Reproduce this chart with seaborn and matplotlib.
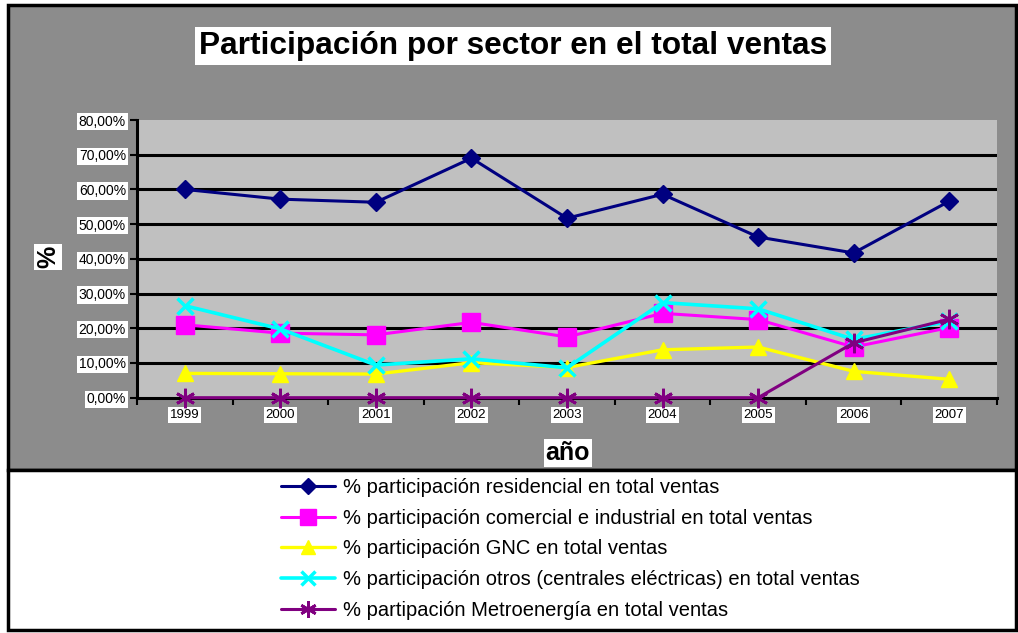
import matplotlib
matplotlib.use("Agg")
import matplotlib.pyplot as plt
import seaborn as sns
import pandas as pd
from matplotlib.patches import Rectangle
from matplotlib.ticker import FixedLocator

years = [1999, 2000, 2001, 2002, 2003, 2004, 2005, 2006, 2007]
residencial = [60.0, 57.2, 56.3, 69.0, 51.7, 58.6, 46.3, 41.7, 56.6]
comercial = [21.0, 18.6, 18.1, 21.7, 17.5, 24.3, 22.5, 14.6, 20.2]
gnc = [7.0, 6.9, 6.8, 10.1, 8.7, 13.8, 14.6, 7.6, 5.3]
otros = [26.5, 19.8, 9.4, 11.2, 8.6, 27.4, 25.6, 16.8, 22.0]
metro = [0.0, 0.0, 0.0, 0.0, 0.0, 0.0, 0.0, 15.8, 22.6]

labels = [
    "% participación residencial en total ventas",
    "% participación comercial e industrial en total ventas",
    "% participación GNC en total ventas",
    "% participación otros (centrales eléctricas) en total ventas",
    "% partipación Metroenergía en total ventas",
]
ytick_labels = ["0,00%", "10,00%", "20,00%", "30,00%", "40,00%", "50,00%", "60,00%", "70,00%", "80,00%"]

series = [residencial, comercial, gnc, otros, metro]
colors = ["#000080", "#FF00FF", "#FFFF00", "#00FFFF", "#800080"]
markers = ["D", "s", "^", "x", (6, 2, 0)]
msizes = [9, 13, 12, 12, 14]
mew = [1, 1, 1, 2.5, 2.0]
lws = [2.2, 2.2, 2.4, 2.6, 2.2]

sns.set_style("white")
plt.rcParams["font.family"] = ["Liberation Sans", "DejaVu Sans"]
plt.rcParams["text.color"] = "black"
plt.rcParams["xtick.color"] = "black"
plt.rcParams["ytick.color"] = "black"

W, H = 1018, 633
fig = plt.figure(figsize=(W / 100, H / 100), dpi=100)
fig.patch.set_facecolor("white")

# background panels
fig.patches.append(Rectangle((8 / W, 1 - 470 / H), (1016 - 8) / W, (470 - 5) / H,
                             transform=fig.transFigure, facecolor="#8C8C8C",
                             edgecolor="black", lw=2.5, zorder=-10))
fig.patches.append(Rectangle((8 / W, 1 - 630 / H), (1016 - 8) / W, (630 - 470) / H,
                             transform=fig.transFigure, facecolor="white",
                             edgecolor="black", lw=2.5, zorder=-10))

ax = fig.add_axes([137 / W, 1 - 397.7 / H, (997 - 137) / W, (397.7 - 120) / H])
ax.set_zorder(1)
ax.set_facecolor("#C0C0C0")

for vals, lab, c, m, ms, mw, lw in zip(series, labels, colors, markers, msizes, mew, lws):
    df = pd.DataFrame({"year": years, "value": vals})
    sns.lineplot(data=df, x="year", y="value", ax=ax, color=c, marker=m,
                 markersize=ms, markeredgewidth=mw, markeredgecolor=c,
                 linewidth=lw, label=lab, legend=False, zorder=3, clip_on=False)

ax.set_xlim(1998.5, 2007.5)
ax.set_ylim(0, 80)
ax.set_yticks(range(0, 81, 10))
ax.set_yticklabels(ytick_labels)
ax.set_xticks(years)
ax.set_xticklabels([str(y) for y in years])
ax.xaxis.set_minor_locator(FixedLocator([y + 0.5 for y in range(1998, 2008)]))

for y in range(10, 80, 10):
    ax.axhline(y, color="black", lw=2.2, zorder=1)

for s in ["top", "right"]:
    ax.spines[s].set_visible(False)
for s in ["left", "bottom"]:
    ax.spines[s].set_color("black")
    ax.spines[s].set_linewidth(2.2)
    ax.spines[s].set_zorder(2)

ax.tick_params(axis="y", which="major", direction="out", length=5, width=1.5,
               color="black", labelsize=10, pad=3, left=True)
ax.tick_params(axis="x", which="major", length=0, labelsize=9.5, pad=8, bottom=True)
ax.tick_params(axis="x", which="minor", direction="out", length=5, width=1.5,
               color="black", bottom=True)

for t in ax.get_yticklabels() + ax.get_xticklabels():
    t.set_bbox(dict(facecolor="white", edgecolor="none", pad=1.2))

ax.set_xlabel("")
ax.set_ylabel("")

fig.text(513 / W, 1 - 46 / H, "Participación por sector en el total ventas",
         ha="center", va="center", fontsize=22.8, fontweight="bold",
         bbox=dict(facecolor="white", edgecolor="none", pad=3))
fig.text(568 / W, 1 - 453 / H, "año", ha="center", va="center", fontsize=18,
         fontweight="bold", bbox=dict(facecolor="white", edgecolor="none", pad=1.5))
fig.text(48 / W, 1 - 257 / H, "%", ha="center", va="center", fontsize=18,
         fontweight="bold", rotation=90,
         bbox=dict(facecolor="white", edgecolor="none", pad=1.5))

handles, labs = ax.get_legend_handles_labels()
fig.legend(handles, labs, loc="upper left", bbox_to_anchor=(281 / W, 1 - 478 / H),
           frameon=False, fontsize=14.5, handlelength=2.7, handletextpad=0.4,
           labelspacing=0.58, borderpad=0, borderaxespad=0, markerscale=0.85)

fig.savefig("out.png", dpi=100, facecolor=fig.get_facecolor())
